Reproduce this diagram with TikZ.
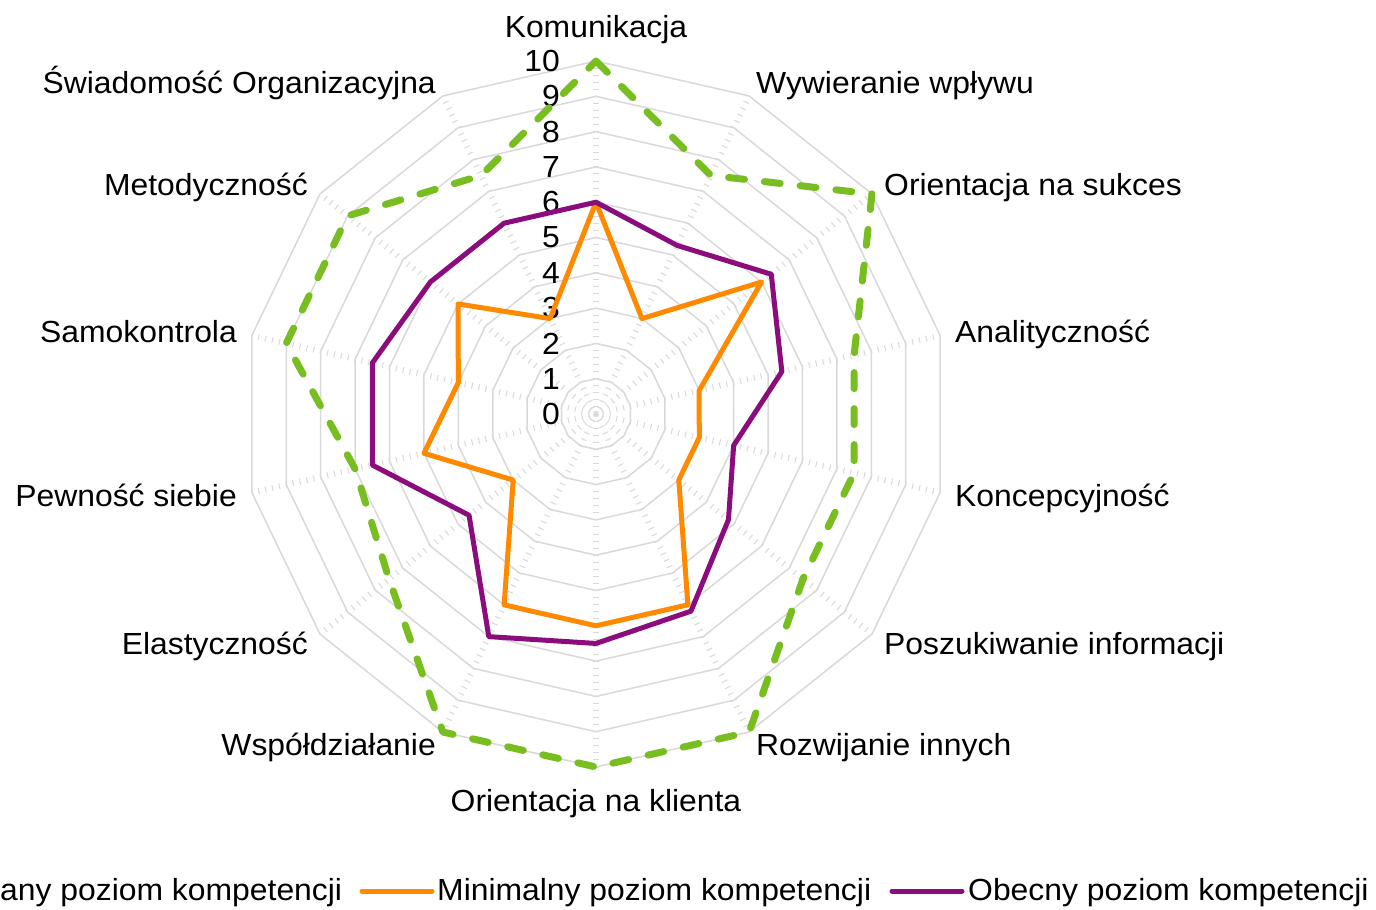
\documentclass[tikz,border=0pt]{standalone}
\usepackage{fontspec}
\setmainfont{Liberation Sans}[FakeStretch=1.045]
\definecolor{gridc}{HTML}{D9D9D9}
\definecolor{greenc}{HTML}{78BE20}
\definecolor{orangec}{HTML}{FF8A00}
\definecolor{purplec}{HTML}{8B0C7C}
\def\cx{596}
\def\cy{414}
\def\uu{35.3}
\def\RP#1#2{({\cx+#2*\uu*cos(90-#1*360/14)},{\cy-#2*\uu*sin(90-#1*360/14)})}
\tikzset{
  lbl/.style={inner sep=0pt, font=\fontsize{30.5}{36}\selectfont},
  gridline/.style={draw=gridc, line width=1.5pt, line join=round},
  tickline/.style={draw=gridc, line width=6pt, dash pattern=on 1pt off 6.06pt, dash phase=0.5pt},
  reqline/.style={draw=greenc, line width=7pt, dash pattern=on 16pt off 20pt, line cap=round, line join=round},
  minline/.style={draw=orangec, line width=5pt, line join=round},
  curline/.style={draw=purplec, line width=5pt, line join=round},
}
\begin{document}
\begin{tikzpicture}[x=1pt,y=-1pt]
\useasboundingbox (0,0) rectangle (1376,910);
\fill[white] (0,0) rectangle (1376,910);
% grid
\foreach \k in {1,...,10}{
  \draw[gridline] \RP{0}{\k} \foreach \i in {1,...,13}{ -- \RP{\i}{\k} } -- cycle;
}
\foreach \i in {0,...,13}{
  \draw[tickline] (\cx,\cy) -- \RP{\i}{10};
}
% scale labels
\foreach \k in {0,...,10}{
  \node[lbl, anchor=east] (s\k) at (560,{\cy-\k*\uu}) {\k};
}
% data
\draw[reqline] \RP{0}{10} -- \RP{1}{7.5} -- \RP{2}{10} -- \RP{3}{7.5} -- \RP{4}{7.5} -- \RP{5}{7.5} -- \RP{6}{10} -- \RP{7}{10} -- \RP{8}{10} -- \RP{9}{7.5} -- \RP{10}{7} -- \RP{11}{9} -- \RP{12}{9} -- \RP{13}{7.5} -- cycle;
\draw[minline] \RP{0}{6} -- \RP{1}{3} -- \RP{2}{6} -- \RP{3}{3} -- \RP{4}{3} -- \RP{5}{3} -- \RP{6}{6} -- \RP{7}{6} -- \RP{8}{6} -- \RP{9}{3} -- \RP{10}{5} -- \RP{11}{4} -- \RP{12}{5} -- \RP{13}{3} -- cycle;
\draw[curline] \RP{0}{6} -- \RP{1}{5.3} -- \RP{2}{6.35} -- \RP{3}{5.4} -- \RP{4}{4} -- \RP{5}{4.8} -- \RP{6}{6.2} -- \RP{7}{6.5} -- \RP{8}{7} -- \RP{9}{4.6} -- \RP{10}{6.5} -- \RP{11}{6.5} -- \RP{12}{6} -- \RP{13}{6} -- cycle;
% category labels
\node[lbl, anchor=base] (c0) at (596,37.5) {Komunikacja};
\node[lbl, anchor=base west] (c1) at (756,93) {Wywieranie wpływu};
\node[lbl, anchor=base west] (c2) at (884,195) {Orientacja na sukces};
\node[lbl, anchor=base west] (c3) at (955,342) {Analityczność};
\node[lbl, anchor=base west] (c4) at (955,506) {Koncepcyjność};
\node[lbl, anchor=base west] (c5) at (884,654) {Poszukiwanie informacji};
\node[lbl, anchor=base west] (c6) at (756,755) {Rozwijanie innych};
\node[lbl, anchor=base] (c7) at (596,811) {Orientacja na klienta};
\node[lbl, anchor=base east] (c8) at (436,755) {Współdziałanie};
\node[lbl, anchor=base east] (c9) at (308,654) {Elastyczność};
\node[lbl, anchor=base east] (c10) at (237,506) {Pewność siebie};
\node[lbl, anchor=base east] (c11) at (237,342) {Samokontrola};
\node[lbl, anchor=base east] (c12) at (308,195) {Metodyczność};
\node[lbl, anchor=base east] (c13) at (436,93) {Świadomość Organizacyjna};
% legend
\node[lbl, anchor=base west] (l1) at (0,900) {any poziom kompetencji};
\coordinate (o1) at (362,891);
\coordinate (o2) at (432,891);
\draw[draw=orangec, line width=5pt, line cap=round] (o1) -- (o2);
\node[lbl, anchor=base west] (l2) at (437,900) {Minimalny poziom kompetencji};
\coordinate (p1) at (892,891);
\coordinate (p2) at (962,891);
\draw[draw=purplec, line width=5pt, line cap=round] (p1) -- (p2);
\node[lbl, anchor=base west] (l3) at (968,900) {Obecny poziom kompetencji};
\end{tikzpicture}
\end{document}
